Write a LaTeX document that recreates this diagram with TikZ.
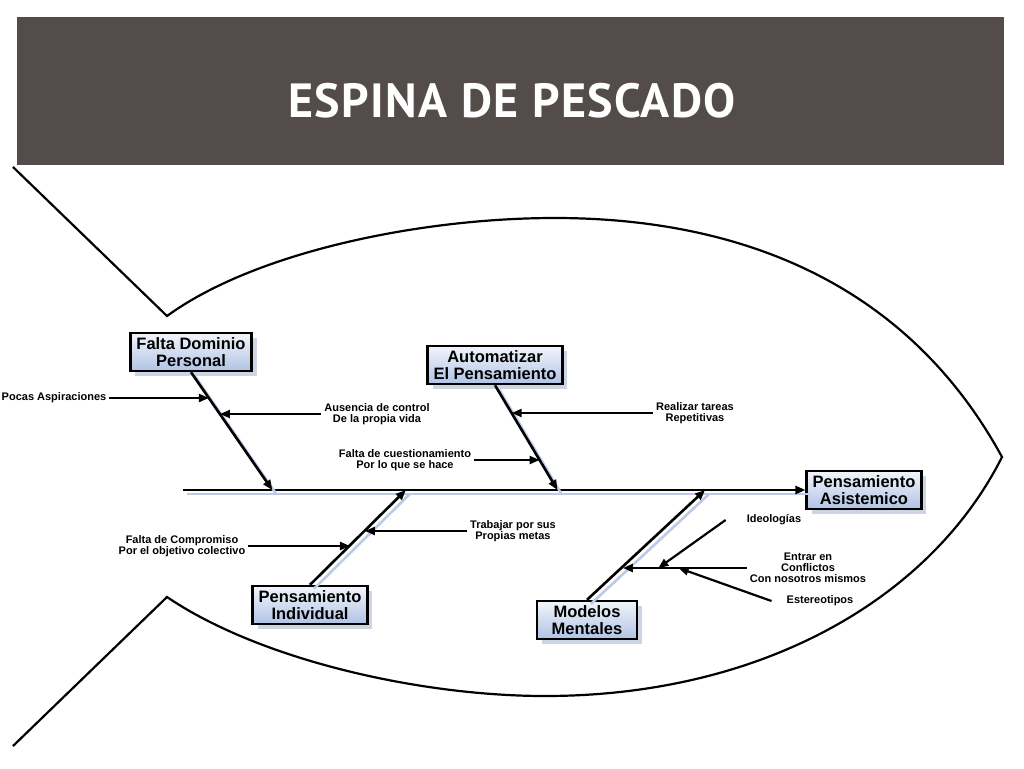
\documentclass[tikz,border=0pt]{standalone}
\usepackage{fontspec}
\setmainfont{Liberation Sans}
\newfontfamily\titlefont[LetterSpace=3]{PT Sans}
\usetikzlibrary{positioning,arrows.meta,shadows}

\definecolor{banner}{RGB}{84,76,74}
\definecolor{boxtop}{RGB}{242,245,251}
\definecolor{boxbottom}{RGB}{176,195,228}
\definecolor{boxshade}{RGB}{205,213,228}
\definecolor{boneshade}{RGB}{188,202,232}

\begin{document}
\begin{tikzpicture}[x=1pt,y=-1pt,
  >={Triangle[length=10pt,width=8pt]},
  causa/.style={draw=black, line width=2.4pt, top color=boxtop, bottom color=boxbottom,
    drop shadow={shadow xshift=5pt, shadow yshift=-5pt, fill=boxshade, opacity=1},
    font=\fontsize{16.5}{16.5}\selectfont\bfseries, align=center,
    inner xsep=6pt, minimum height=38pt},
  lbl/.style={font=\fontsize{11}{11}\selectfont\bfseries, align=center, inner sep=3pt},
  bone/.style={line width=2.6pt, ->,
    preaction={draw=boneshade, line width=2.6pt, -, transform canvas={xshift=4pt, yshift=-4pt}}},
  flecha/.style={line width=2.2pt, ->},
  fish/.style={line width=2.2pt}]
  \useasboundingbox (0,0) rectangle (1024,768);

  % banner
  \fill[banner] (17,17) rectangle (1004,165);
  \node[text=white, font=\titlefont\bfseries\fontsize{48}{48}\selectfont] (titulo) at (512,101) {ESPINA DE PESCADO};

  % fish outline
  \draw[fish] (13,167) -- (167,316) .. controls (255,252) and (420,218) .. (555,218)
    .. controls (720,218) and (900,270) .. (1002,457)
    .. controls (930,600) and (760,696) .. (545,696)
    .. controls (420,696) and (260,660) .. (167,597) -- (13,746);

  % causes
  \node[causa] (fd) at (191,352) {Falta Dominio\\Personal};
  \node[causa] (ap) at (495,365) {Automatizar\\El Pensamiento};
  \node[causa] (pa) at (864,490) {Pensamiento\\Asistemico};
  \node[causa] (pi) at (310,605) {Pensamiento\\Individual};
  \node[causa, minimum width=100pt] (mm) at (587,620) {Modelos\\Mentales};

  % spine and bones
  \coordinate (cola) at (183,490);
  \draw[bone] (cola) -- coordinate[pos=0.1435] (e1) coordinate[pos=0.358] (e3)
    coordinate[pos=0.6016] (e2) coordinate[pos=0.8387] (e4) (pa.west);
  \draw[bone] (fd.south) -- coordinate[pos=0.22] (fd1) coordinate[pos=0.356] (fd2) (e1);
  \draw[bone] (ap.south) -- coordinate[pos=0.267] (ap1) coordinate[pos=0.714] (ap2) (e2);
  \draw[bone] (pi.north) -- coordinate[pos=0.417] (pi1) coordinate[pos=0.573] (pi2) (e3);
  \draw[bone] (mm.north) -- coordinate[pos=0.304] (mm1) (e4);

  % sub causes
  \node[lbl] (pocas) at (54,398) {Pocas Aspiraciones};
  \draw[flecha] (pocas.east) -- (pocas.east -| fd1);
  \node[lbl] (ausencia) at (377,414) {Ausencia de control\\De la propia vida};
  \draw[flecha] (ausencia.west) -- (ausencia.west -| fd2);
  \node[lbl] (cuestion) at (405,460) {Falta de cuestionamiento\\Por lo que se hace};
  \draw[flecha] (cuestion.east) -- (cuestion.east -| ap2);
  \node[lbl] (realizar) at (695,413) {Realizar tareas\\Repetitivas};
  \draw[flecha] (realizar.west) -- (realizar.west -| ap1);
  \node[lbl] (compromiso) at (182,546) {Falta de Compromiso\\Por el objetivo colectivo};
  \draw[flecha] (compromiso.east) -- (compromiso.east -| pi1);
  \node[lbl] (trabajar) at (513,531) {Trabajar por sus\\Propias metas};
  \draw[flecha] (trabajar.west) -- (trabajar.west -| pi2);
  \node[lbl] (entrar) at (808,568) {Entrar en\\Conflictos\\Con nosotros mismos};
  \draw[flecha] (entrar.west) -- coordinate[pos=0.55] (en2) coordinate[pos=0.714] (en1)
    (entrar.west -| mm1);
  \node[lbl] (ideo) at (774,520) {Ideologías};
  \coordinate[left=18pt of ideo.west] (ideo0);
  \draw[flecha] (ideo0) -- (en1);
  \node[lbl] (estereo) at (820,601) {Estereotipos};
  \coordinate[left=12pt of estereo.west] (estereo0);
  \draw[flecha] (estereo0) -- (en2);
\end{tikzpicture}
\end{document}
